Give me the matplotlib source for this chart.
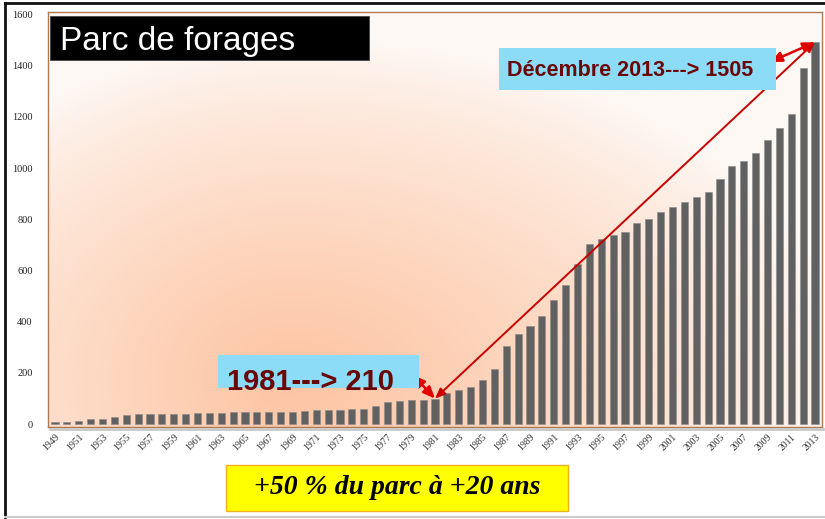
import numpy as np
import matplotlib
matplotlib.use("Agg")
import matplotlib.pyplot as plt
from matplotlib.patches import Rectangle
from matplotlib.lines import Line2D

years = list(range(1949, 2014))
values = [8, 8, 13, 22, 22, 28, 34, 38, 38, 38, 38, 38, 42, 42, 42, 47,
          46, 46, 46, 46, 46,
          52, 57, 57, 56, 60, 60, 70, 85, 90, 94, 94, 100,
          122, 133, 144, 173, 214, 306, 354, 383, 422, 487, 545, 625, 704, 725,
          738, 751, 785, 803, 829, 848, 868, 888, 907, 956, 1010, 1028, 1060,
          1109, 1155, 1210, 1392, 1492]
xtick_labels = [str(y) for y in years[::2]]
yticks = [0, 200, 400, 600, 800, 1000, 1200, 1400, 1600]
title_text = "Parc de forages"
note_end = "Décembre 2013---> 1505"
note_start = "1981---> 210"
footer = "+50 % du parc à +20 ans"

W, H = 825, 519
fig = plt.figure(figsize=(W / 100, H / 100), dpi=100)
fig.patch.set_facecolor("white")

def fx(x):
    return x / W

def fy(y):
    return 1 - y / H

L, R, T, B = 48, 822, 12, 427
ax = fig.add_axes([fx(L), fy(B), fx(R) - fx(L), fy(T) - fy(B)])

# radial background gradient
px = np.linspace(L, R, 400)
py = np.linspace(T, B, 220)
PX, PY = np.meshgrid(px, py)
cx, cy = 290, 380
rx = np.where(PX > cx, 560, 420)
d = np.sqrt(((PX - cx) / rx) ** 2 + ((PY - cy) / 340) ** 2)
t = np.clip(1 - d, 0, 1) ** 0.8
base = np.array([253, 248, 244]) / 255
peach = np.array([253, 196, 162]) / 255
img = base[None, None, :] + t[:, :, None] * (peach - base)[None, None, :]
ax.imshow(img, extent=[0, 1, 0, 1], transform=ax.transAxes, aspect="auto",
          zorder=0, interpolation="bilinear")

ax.bar(years, values, width=0.6, color="#616161", edgecolor="#8a8a8a",
       linewidth=0.4, zorder=2)

ax.set_xlim(years[0] - 0.59, years[-1] + 0.59)
ax.set_ylim(-11, 1610)
ax.set_yticks(yticks)
ax.set_yticklabels([str(v) for v in yticks], fontsize=7.5,
                   family="Liberation Serif", color="#222222")
ax.set_xticks(years[::2])
ax.set_xticklabels(xtick_labels, rotation=45, ha="right",
                   rotation_mode="anchor", fontsize=7,
                   family="Liberation Serif", color="#333333")
ax.tick_params(axis="both", length=0)
ax.tick_params(axis="y", pad=11)
ax.tick_params(axis="x", pad=4)
for s in ax.spines.values():
    s.set_color("#b07a50")
    s.set_linewidth(1.0)

# shadow of the frame
fig.add_artist(Line2D([fx(L + 2), fx(R + 1)], [fy(B + 2), fy(B + 2)],
                      color="#c8c8c8", lw=2, zorder=0.5))

# outer border
fig.add_artist(Line2D([fx(5), fx(5)], [fy(3), fy(517)], color="#111111", lw=2))
fig.add_artist(Line2D([fx(5), fx(830)], [fy(3), fy(3)], color="#111111", lw=2))
fig.add_artist(Line2D([fx(5), fx(830)], [fy(517), fy(517)], color="#cccccc", lw=1.5))

# title box
fig.add_artist(Rectangle((fx(50), fy(60)), fx(369) - fx(50), fy(16) - fy(60),
                         facecolor="black", edgecolor="#444444", lw=0.6, zorder=5))
fig.text(fx(60), fy(50), title_text, color="white", fontsize=24,
         family="Liberation Sans", va="baseline", ha="left", zorder=6)

# blue boxes
fig.add_artist(Rectangle((fx(499), fy(90)), fx(776) - fx(499), fy(48) - fy(90),
                         facecolor="#8cdcf8", edgecolor="none", zorder=5))
fig.text(fx(507), fy(76), note_end, color="#6a0808", fontsize=15.5,
         fontweight="bold", family="Liberation Sans", va="baseline",
         ha="left", zorder=6)
fig.add_artist(Rectangle((fx(218), fy(388)), fx(419) - fx(218), fy(355) - fy(388),
                         facecolor="#8cdcf8", edgecolor="none", zorder=5))
fig.text(fx(227), fy(390), note_start, color="#6a0808", fontsize=21,
         fontweight="bold", family="Liberation Sans", va="baseline",
         ha="left", zorder=6)

# yellow box
fig.add_artist(Rectangle((fx(226), fy(511)), fx(568) - fx(226), fy(465) - fy(511),
                         facecolor="#ffff00", edgecolor="#f0b020", lw=1, zorder=5))
fig.text(fx(397), fy(488), footer, color="black", fontsize=20,
         fontweight="bold", fontstyle="italic", family="Liberation Serif",
         va="center", ha="center", zorder=6)

# arrows
i81 = years.index(1981)
i13 = years.index(2013)
arrow_kw = dict(arrowstyle="<|-|>,head_length=0.7,head_width=0.3",
                color="#e00000", lw=1.8, shrinkA=0, shrinkB=0)
ax.annotate("", xy=(years[i81], values[i81]), xycoords="data",
            xytext=(413, H - 375), textcoords="figure pixels",
            arrowprops=arrow_kw, zorder=7, annotation_clip=False)
ax.annotate("", xy=(years[i13], values[i13]), xycoords="data",
            xytext=(years[i81], values[i81]), textcoords="data",
            arrowprops=dict(arrowstyle="<|-|>,head_length=0.6,head_width=0.25",
                            color="#c80000", lw=1.4, shrinkA=0, shrinkB=0),
            zorder=7, annotation_clip=False)
ax.annotate("", xy=(years[i13], values[i13]), xycoords="data",
            xytext=(770, H - 62), textcoords="figure pixels",
            arrowprops=arrow_kw, zorder=7, annotation_clip=False)

fig.savefig("out.png", dpi=100, facecolor="white")
